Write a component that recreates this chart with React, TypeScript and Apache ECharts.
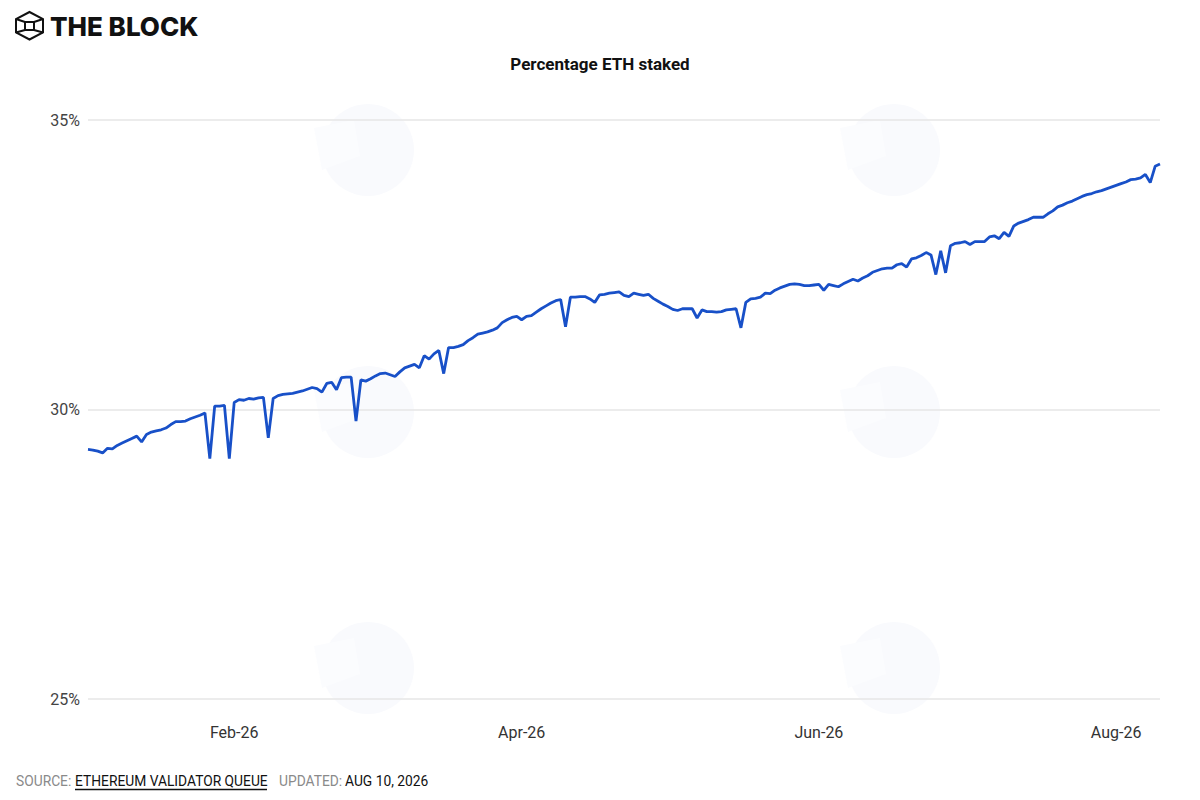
import { useEffect, useRef } from 'react';
import * as echarts from 'echarts';

// Daily series, first point on START_DATE, one value per day (percent of ETH staked).
const START_DATE = '2026-01-02';
const STAKED_PCT = [
  29.31, 29.30, 29.28, 29.25, 29.33, 29.32, 29.38, 29.42, 29.46, 29.50,
  29.54, 29.44, 29.57, 29.61, 29.63, 29.65, 29.68, 29.74, 29.79, 29.79,
  29.80, 29.84, 29.87, 29.90, 29.94, 29.15, 30.06, 30.06, 30.07, 29.15,
  30.12, 30.17, 30.16, 30.19, 30.18, 30.20, 30.21, 29.51, 30.19, 30.24,
  30.26, 30.27, 30.28, 30.30, 30.32, 30.35, 30.38, 30.36, 30.30, 30.45,
  30.47, 30.34, 30.55, 30.56, 30.56, 29.80, 30.51, 30.49, 30.53, 30.58,
  30.62, 30.63, 30.60, 30.57, 30.65, 30.72, 30.75, 30.78, 30.72, 30.93,
  30.87, 30.96, 31.02, 30.62, 31.07, 31.07, 31.09, 31.12, 31.19, 31.24,
  31.30, 31.32, 31.34, 31.37, 31.41, 31.50, 31.55, 31.59, 31.61, 31.55,
  31.61, 31.62, 31.68, 31.74, 31.79, 31.84, 31.88, 31.90, 31.43, 31.94,
  31.94, 31.95, 31.95, 31.91, 31.85, 31.98, 31.99, 32.01, 32.02, 32.03,
  31.97, 31.95, 32.01, 31.99, 31.97, 31.99, 31.92, 31.87, 31.82, 31.78,
  31.73, 31.71, 31.74, 31.74, 31.74, 31.58, 31.72, 31.69, 31.69, 31.68,
  31.69, 31.72, 31.73, 31.74, 31.41, 31.85, 31.91, 31.92, 31.94, 32.01,
  32.00, 32.06, 32.10, 32.13, 32.16, 32.17, 32.16, 32.14, 32.14, 32.15,
  32.16, 32.06, 32.16, 32.14, 32.12, 32.17, 32.21, 32.25, 32.22, 32.27,
  32.31, 32.37, 32.40, 32.43, 32.44, 32.44, 32.50, 32.52, 32.46, 32.60,
  32.62, 32.66, 32.71, 32.67, 32.33, 32.74, 32.36, 32.83, 32.87, 32.88,
  32.90, 32.85, 32.90, 32.90, 32.90, 32.98, 33.00, 32.95, 33.06, 32.99,
  33.17, 33.22, 33.25, 33.28, 33.32, 33.32, 33.32, 33.38, 33.43, 33.50,
  33.53, 33.57, 33.60, 33.64, 33.68, 33.71, 33.73, 33.76, 33.78, 33.81,
  33.84, 33.87, 33.90, 33.93, 33.97, 33.98, 34.00, 34.06, 33.92, 34.20,
  34.24,
];
const Y_MIN = 25;
const Y_MAX = 35;
const Y_STEP = 5;
// only these dates get a label on the x axis
const X_LABEL_DATES = ['2026-02-01', '2026-04-01', '2026-06-01', '2026-08-01'];
const MONTHS = ['Jan', 'Feb', 'Mar', 'Apr', 'May', 'Jun', 'Jul', 'Aug', 'Sep', 'Oct', 'Nov', 'Dec'];

const LINE_COLOR = '#1850c8';
const FONT = 'Roboto, "Noto Sans", sans-serif';

function buildDates(start: string, n: number): string[] {
  const t0 = Date.parse(start + 'T00:00:00Z');
  const out: string[] = [];
  for (let i = 0; i < n; i++) out.push(new Date(t0 + i * 86400000).toISOString().slice(0, 10));
  return out;
}

function monthLabel(d: string): string {
  const [y, m] = d.split('-');
  return `${MONTHS[Number(m) - 1]}-${y.slice(2)}`;
}

// faint round watermark blobs behind the plot
function watermark(cx: number, cy: number) {
  return {
    type: 'group',
    x: cx,
    y: cy,
    z: -10,
    silent: true,
    children: [
      { type: 'circle', shape: { cx: 6, cy: 0, r: 46 }, style: { fill: '#f9fafd' } },
      {
        type: 'polygon',
        shape: { points: [[-48, -22], [-8, -30], [-2, 6], [-40, 20]] },
        style: { fill: '#fbfcfe' },
      },
    ],
  };
}

function logo() {
  const stroke = { stroke: '#111111', lineWidth: 2, fill: 'none' };
  const hex = [[13.5, 0], [27, 7], [27, 20.5], [13.5, 27.5], [0, 20.5], [0, 7]];
  return {
    type: 'group',
    x: 16,
    y: 12,
    children: [
      { type: 'polygon', shape: { points: hex }, style: stroke },
      { type: 'rect', shape: { x: 9, y: 10, width: 9, height: 8 }, style: stroke },
      { type: 'line', shape: { x1: 0, y1: 7, x2: 9, y2: 10 }, style: stroke },
      { type: 'line', shape: { x1: 27, y1: 7, x2: 18, y2: 10 }, style: stroke },
      { type: 'line', shape: { x1: 0, y1: 20.5, x2: 9, y2: 18 }, style: stroke },
      { type: 'line', shape: { x1: 27, y1: 20.5, x2: 18, y2: 18 }, style: stroke },
    ],
  };
}

function buildOption(): echarts.EChartsOption {
  const dates = buildDates(START_DATE, STAKED_PCT.length);
  const footY = 781;
  const footFont = { fontSize: 13.8, fontFamily: FONT, verticalAlign: 'middle' as const };

  return {
    animation: false,
    backgroundColor: '#ffffff',
    title: {
      text: 'Percentage ETH staked',
      left: 'center',
      top: 50,
      textStyle: { fontSize: 17, fontWeight: 'bold', color: '#111111', fontFamily: FONT },
    },
    grid: { left: 88, right: 40, top: 120, bottom: 101, containLabel: false, outerBoundsMode: 'none' } as any,
    xAxis: {
      type: 'category',
      data: dates,
      boundaryGap: false,
      axisLine: { show: false },
      axisTick: { show: false },
      axisLabel: {
        interval: (_i: number, v: string) => X_LABEL_DATES.includes(v),
        formatter: (v: string) => monthLabel(v),
        fontSize: 16,
        color: '#333333',
        fontFamily: FONT,
        margin: 25,
        hideOverlap: false,
      },
      splitLine: { show: false },
    },
    yAxis: {
      type: 'value',
      min: Y_MIN,
      max: Y_MAX,
      interval: Y_STEP,
      axisLine: { show: false },
      axisTick: { show: false },
      axisLabel: {
        formatter: '{value}%',
        fontSize: 16,
        color: '#444444',
        fontFamily: FONT,
        margin: 8,
      },
      splitLine: { lineStyle: { color: '#e6e6e6', width: 1.5 } },
    },
    series: [
      {
        type: 'line',
        data: STAKED_PCT,
        showSymbol: false,
        lineStyle: { color: LINE_COLOR, width: 2.8 },
        itemStyle: { color: LINE_COLOR },
      },
    ],
    graphic: [
      watermark(362, 150),
      watermark(888, 150),
      watermark(362, 412),
      watermark(888, 412),
      watermark(362, 668),
      watermark(888, 668),
      logo(),
      {
        type: 'text',
        x: 50,
        y: 26,
        style: {
          text: 'THE BLOCK',
          fontSize: 26,
          fontWeight: 800,
          fontFamily: 'Inter, "DejaVu Sans", sans-serif',
          fill: '#111111',
          verticalAlign: 'middle',
        },
      },
      { type: 'text', x: 16, y: footY, style: { ...footFont, text: 'SOURCE:', fill: '#8a8a8a' } },
      { type: 'text', x: 75, y: footY, style: { ...footFont, text: 'ETHEREUM VALIDATOR QUEUE', fill: '#111111' } },
      { type: 'line', shape: { x1: 75, y1: 789.5, x2: 267, y2: 789.5 }, style: { stroke: '#111111', lineWidth: 1.5 } },
      { type: 'text', x: 279, y: footY, style: { ...footFont, text: 'UPDATED:', fill: '#8a8a8a' } },
      { type: 'text', x: 345, y: footY, style: { ...footFont, text: 'AUG 10, 2026', fill: '#111111' } },
    ],
  } as echarts.EChartsOption;
}

export default function App() {
  const ref = useRef<HTMLDivElement>(null);

  useEffect(() => {
    document.body.style.margin = '0';
    if (!ref.current) return;
    const chart = echarts.init(ref.current, null, { renderer: 'svg' });
    chart.setOption(buildOption());
    return () => chart.dispose();
  }, []);

  return <div ref={ref} style={{ width: 1200, height: 800 }} />;
}
